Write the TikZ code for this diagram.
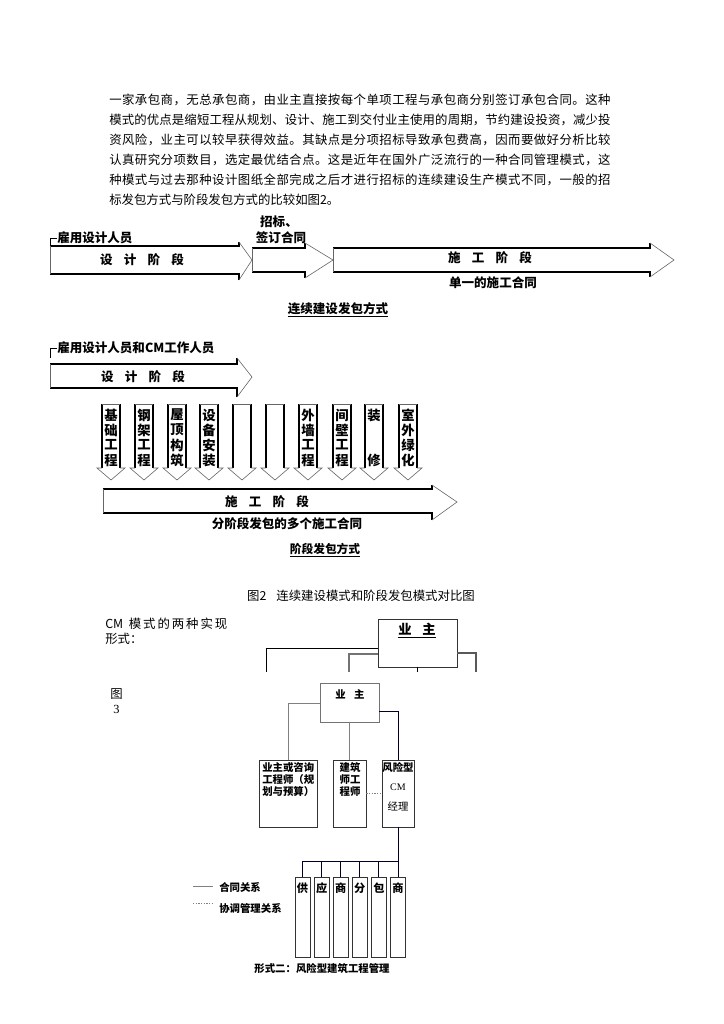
\documentclass[tikz,border=0pt]{standalone}
\usepackage{fontspec}
\setmainfont{Liberation Serif}
\newfontfamily\cjk{Noto Sans CJK SC}
\usetikzlibrary{fit}
\newcommand{\spreadline}[2]{\makebox[#1][s]{\spreadfirst#2\relax}}
\def\spreadfirst#1{#1\spreadrest}
\def\spreadrest#1{\ifx\relax#1\else\hskip 0pt plus 1fil #1\expandafter\spreadrest\fi}
\newcommand{\harrow}[8]{%
  \draw[edge] (#1,#3) -- (#2,#3) -- (#2,#5);
  \draw[edge] (#1,#4) -- (#2,#4) -- (#2,#6);
  \draw[hair] (#1,#3) -- (#1,#4);
  \draw[hair] (#2,#5) -- (#7,#8) -- (#2,#6);
}
\begin{document}
\begin{tikzpicture}[x=0.75pt,y=-0.75pt,
  edge/.style={black,line width=0.9pt},
  hair/.style={black!60,line width=0.45pt},
  para/.style={anchor=west,inner sep=0pt,font=\cjk\fontsize{9.3pt}{11pt}\selectfont},
  lbl/.style={inner sep=0pt,font=\cjk\bfseries\fontsize{9.4pt}{11pt}\selectfont},
  vch/.style={inner sep=0pt,font=\cjk\bfseries\fontsize{10pt}{11pt}\selectfont},
  small/.style={inner sep=0pt,font=\cjk\bfseries\fontsize{7.8pt}{9pt}\selectfont},
  box/.style={draw=black!80,line width=0.6pt,inner sep=0pt},
  gcon/.style={black!50,line width=0.7pt},
  dcon/.style={black!85!blue,line width=0.7pt},
  dotcon/.style={black!50,line width=0.6pt,dash pattern=on 1pt off 1pt}]
\useasboundingbox (0,0) rectangle (724,1024);
\fill[white] (0,0) rectangle (724,1024);

% ---------- paragraph ----------
\node[para] (p1) at (109,100) {\spreadline{376pt}{一家承包商，无总承包商，由业主直接按每个单项工程与承包商分别签订承包合同。这种}};
\node[para] (p2) at (109,120) {\spreadline{376pt}{模式的优点是缩短工程从规划、设计、施工到交付业主使用的周期，节约建设投资，减少投}};
\node[para] (p3) at (109,140) {\spreadline{376pt}{资风险，业主可以较早获得效益。其缺点是分项招标导致承包费高，因而要做好分析比较}};
\node[para] (p4) at (109,160) {\spreadline{376pt}{认真研究分项数目，选定最优结合点。这是近年在国外广泛流行的一种合同管理模式，这}};
\node[para] (p5) at (109,180) {\spreadline{376pt}{种模式与过去那种设计图纸全部完成之后才进行招标的连续建设生产模式不同，一般的招}};
\node[para] (p6) at (109,200) {标发包方式与阶段发包方式的比较如图2。};

% ---------- diagram 1 ----------
\node[lbl,anchor=west] (hire1) at (57,238) {雇用设计人员};
\coordinate (b1) at (50,248);
\draw[black,line width=0.6pt] (hire1.west) -| (b1);
\harrow{50}{239}{246}{274}{242}{280}{252}{260}
\harrow{252}{305}{248}{272}{243}{278}{333}{260}
\harrow{333}{650}{248}{272}{243}{277}{674}{260}
\node[lbl] (d1) at (142,260) {设\hspace{0.9em}计\hspace{0.9em}阶\hspace{0.9em}段};
\node[lbl] (z1) at (279,222) {招标、};
\node[lbl] (z2) at (281,238) {签订合同};
\node[lbl] (c1) at (490,258) {施\hspace{0.9em}工\hspace{0.9em}阶\hspace{0.9em}段};
\node[lbl] (c1s) at (493,283) {单一的施工合同};
\node[lbl] (cap1) at (338,310) {\underline{连续建设发包方式}};

% ---------- diagram 2 ----------
\node[lbl,anchor=west] (hire2) at (57,348) {雇用设计人员和CM工作人员};
\coordinate (b2) at (50,358);
\draw[black,line width=0.6pt] (hire2.west) -| (b2);
\harrow{50}{237}{364}{388}{358}{397}{252}{377}
\node[lbl] (d2) at (143,377) {设\hspace{0.9em}计\hspace{0.9em}阶\hspace{0.9em}段};

\foreach \i/\cx/\chA/\chB/\chC/\chD in {1/111/基/础/工/程, 2/144/钢/架/工/程, 3/177/屋/顶/构/筑, 4/209/设/备/安/装, 5/242/{}/{}/{}/{}, 6/275/{}/{}/{}/{}, 7/308/外/墙/工/程, 8/342/间/壁/工/程, 9/374/装/{}/{}/修, 10/408/室/外/绿/化}{
  \draw[edge] (\cx-9,404) -- (\cx-9,468);
  \draw[edge] (\cx+9,404) -- (\cx+9,468);
  \draw[hair] (\cx-9,404) -- (\cx+9,404);
  \draw[hair] (\cx-9,468) -- (\cx-14,468) -- (\cx,480) -- (\cx+14,468) -- (\cx+9,468);
  \node[vch] (v\i a) at (\cx,415) {\chA};
  \node[vch] (v\i b) at (\cx,430) {\chB};
  \node[vch] (v\i c) at (\cx,445) {\chC};
  \node[vch] (v\i d) at (\cx,460) {\chD};
}

\harrow{103}{432}{489}{513}{485}{520}{457}{502}
\node[lbl] (c2) at (267,502) {施\hspace{0.9em}工\hspace{0.9em}阶\hspace{0.9em}段};
\node[lbl] (c2s) at (287,524) {分阶段发包的多个施工合同};
\node[lbl,font=\cjk\bfseries\fontsize{8.8pt}{10pt}\selectfont] (cap2) at (325,550) {\underline{阶段发包方式}};

% ---------- figure caption ----------
\node[inner sep=0pt,font=\cjk\fontsize{9.3pt}{11pt}\selectfont] (fig2) at (361,596) {图2\hspace{0.8em}连续建设模式和阶段发包模式对比图};

\node[para] (cmt1) at (105,624) {\spreadline{91.5pt}{{CM\hspace{0.3em}}模式的两种实现}};
\node[para] (cmt2) at (105,639) {形式：};
\node[para] (fig3a) at (110,694) {图};
\node[para] (fig3b) at (113,709) {\rmfamily 3};

% ---------- org chart, upper ----------
\coordinate (o1a) at (378,619); \coordinate (o1b) at (457,667);
\node[box,fit=(o1a)(o1b)] (own1) {};
\node[lbl,font=\cjk\bfseries\fontsize{10pt}{11pt}\selectfont] (own1t) at (417,631) {\underline{业\hspace{0.8em}主}};
\coordinate (t1) at (266,672); \coordinate (t2) at (349,672);
\coordinate (t3) at (417.5,672); \coordinate (t4) at (476,672);
\coordinate (hA) at (0,648); \coordinate (hB) at (0,654); \coordinate (hC) at (0,653);
\draw[black,line width=0.6pt] (own1.west |- hA) -| (t1);
\draw[black!55,line width=1pt] (own1.west |- hB) -| (t2);
\draw[black,line width=0.6pt] (own1.south) -- (t3);
\draw[black!65,line width=1pt] (own1.east |- hC) -| (t4);

% ---------- org chart, lower ----------
\coordinate (o2a) at (320,683); \coordinate (o2b) at (379,722);
\node[box,draw=black!55] (own2) [fit=(o2a)(o2b)] {};
\node[small] (own2t) at (350,694) {业\hspace{0.8em}主};

\coordinate (Aa) at (259,760); \coordinate (Ab) at (317,827);
\node[box] (boxA) [fit=(Aa)(Ab)] {};
\node[small,anchor=north west,align=left] (boxAt) at (262,762) {业主或咨询\\工程师（规\\划与预算）};

\coordinate (Ba) at (333,760); \coordinate (Bb) at (366,827);
\node[box] (boxB) [fit=(Ba)(Bb)] {};
\node[small,anchor=north,align=center] (boxBt) at (350,762) {建筑\\师工\\程师};

\coordinate (Ca) at (382,760); \coordinate (Cb) at (414,827);
\node[box] (boxC) [fit=(Ca)(Cb)] {};
\node[small] (boxCt1) at (398,767) {风险型};
\node[inner sep=0pt,font=\fontsize{7.5pt}{9pt}\selectfont] (boxCt2) at (398,787) {CM};
\node[small,font=\cjk\fontsize{7.8pt}{9pt}\selectfont] (boxCt3) at (398,806) {经理};

\coordinate (h2) at (0,703); \coordinate (h3) at (0,711); \coordinate (h4) at (0,793);
\draw[gcon] (own2.west |- h2) -| (boxA.north);
\draw[gcon] (own2.south) -- (boxB.north);
\draw[dcon] (own2.east |- h3) -| (boxC.north);
\draw[dotcon] (boxB.east |- h4) -- (boxC.west |- h4);

\coordinate (h5) at (0,861);
\foreach \k/\chA in {1/供,2/应,3/商,4/分,5/包,6/商}{
  \pgfmathsetmacro\cx{302.5+19.1*(\k-1)}
  \coordinate (s\k a) at (\cx-7.5,877);
  \coordinate (s\k b) at (\cx+7.5,957);
  \node[box] (s\k) [fit=(s\k a)(s\k b)] {};
  \node[small,font=\cjk\bfseries\fontsize{8.4pt}{9pt}\selectfont] (s\k t) at (\cx,888) {\chA};
}
\draw[dcon] (boxC.south) |- (s1.north |- h5) -- (s1.north);
\foreach \k in {2,...,6}{
  \draw[dcon] (s\k.north) -- (s\k.north |- h5);
}

% legend
\coordinate (l1a) at (193,886); \coordinate (l1b) at (213,886);
\coordinate (l2a) at (193,903); \coordinate (l2b) at (213,903);
\draw[gcon] (l1a) -- (l1b);
\draw[dotcon] (l2a) -- (l2b);
\node[small,anchor=west] (lg1) at (219,887) {合同关系};
\node[small,anchor=west] (lg2) at (219,908) {协调管理关系};

\node[small,font=\cjk\bfseries\fontsize{7.8pt}{9pt}\selectfont] (cap3) at (322,969) {形式二：风险型建筑工程管理};
\end{tikzpicture}
\end{document}
